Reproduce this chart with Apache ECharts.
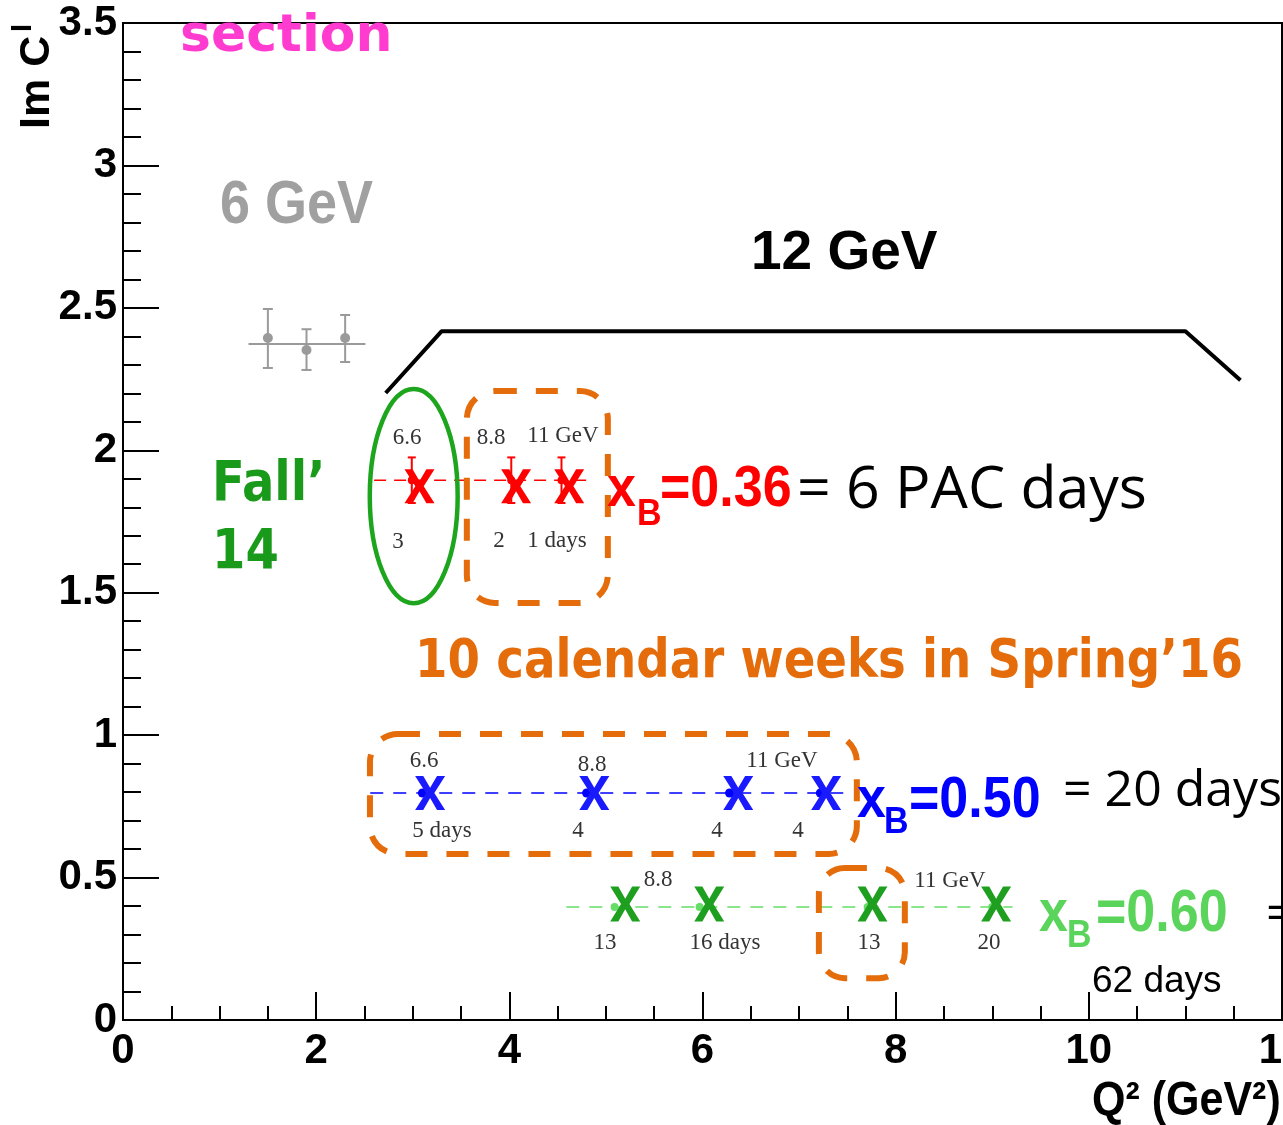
<!DOCTYPE html>
<html>
<head>
<meta charset="utf-8">
<script src="https://cdn.jsdelivr.net/npm/echarts@6/dist/echarts.min.js"></script>
<style>
  html, body { margin: 0; padding: 0; background: #fff; }
  #chart { width: 1283px; height: 1125px; }
</style>
</head>
<body>
<div id="chart"></div>
<script>
// ---- axis ticks ----
const q2TickValues = [0, 2, 4, 6, 8, 10, 12];
const imCTickValues = [0, 0.5, 1, 1.5, 2, 2.5, 3, 3.5];

// ---- 6 GeV measurements ----
const sixGeVQ2 = [1.5, 1.9, 2.3];
const sixGeVImC = [2.394, 2.352, 2.394];
const sixGeVErrUp = [0.102, 0.073, 0.081];
const sixGeVErrDown = [0.105, 0.070, 0.084];
const sixGeVAvgQ2 = [1.30, 2.51];
const sixGeVAvgImC = [2.373, 2.373];

// ---- 12 GeV bracket ----
const bracketQ2 = [2.72, 3.30, 11.00, 11.57];
const bracketImC = [2.201, 2.418, 2.418, 2.246];

// ---- projected points, xB = 0.36 ----
const xb36Q2 = [2.99, 4.02, 4.54];
const xb36ImC = [1.895, 1.895, 1.895];
const xb36Err = [0.08, 0.08, 0.08];
const xb36CrossQ2 = [3.07, 4.07, 4.62];
const xb36CrossImC = [1.874, 1.874, 1.874];
const xb36LineQ2 = [2.60, 4.80];
const xb36LineImC = [1.895, 1.895];

// ---- projected points, xB = 0.50 ----
const xb50Q2 = [3.10, 4.80, 6.28, 7.22];
const xb50ImC = [0.797, 0.797, 0.797, 0.797];
const xb50CrossQ2 = [3.18, 4.88, 6.37, 7.28];
const xb50CrossImC = [0.797, 0.797, 0.797, 0.797];
const xb50LineQ2 = [2.56, 7.56];
const xb50LineImC = [0.797, 0.797];

// ---- projected points, xB = 0.60 ----
const xb60Q2 = [5.09, 5.97, 7.71, 9.00];
const xb60ImC = [0.397, 0.397, 0.397, 0.397];
const xb60CrossQ2 = [5.20, 6.07, 7.76, 9.04];
const xb60CrossImC = [0.407, 0.407, 0.407, 0.407];
const xb60LineQ2 = [4.59, 9.21];
const xb60LineImC = [0.397, 0.397];

const pairs = (xs, ys) => xs.map((x, i) => [x, ys[i]]);

const ORANGE = '#e46c0a';
// thick "X" glyph used for the projected points
const CROSS = 'path://M0,0L27,0L50,35L73,0L100,0L64,50L100,100L73,100L50,65L27,100L0,100L36,50Z';

function errorBars(color, cap, width) {
  return function (params, api) {
    const x = api.value(0), lo = api.value(1), hi = api.value(2);
    const top = api.coord([x, hi]);
    const bot = api.coord([x, lo]);
    const st = { stroke: color, lineWidth: width };
    return {
      type: 'group',
      children: [
        { type: 'line', shape: { x1: top[0], y1: top[1], x2: bot[0], y2: bot[1] }, style: st },
        { type: 'line', shape: { x1: top[0] - cap, y1: top[1], x2: top[0] + cap, y2: top[1] }, style: st },
        { type: 'line', shape: { x1: bot[0] - cap, y1: bot[1], x2: bot[0] + cap, y2: bot[1] }, style: st }
      ]
    };
  };
}

const chart = echarts.init(document.getElementById('chart'), null, { renderer: 'canvas' });

const axisFont = { fontFamily: '"Liberation Sans", Arial, sans-serif', fontWeight: 'bold', fontSize: 42, color: '#000' };

const solid = (c) => ({ color: c, opacity: 1 });

const option = {
  animation: false,
  backgroundColor: '#fff',
  grid: {
    left: 123, right: 1, top: 23, bottom: 105,
    outerBoundsMode: 'none', containLabel: false,
    show: true, borderColor: '#000', borderWidth: 2, backgroundColor: 'transparent'
  },
  xAxis: {
    type: 'value',
    min: q2TickValues[0],
    max: q2TickValues[q2TickValues.length - 1],
    interval: q2TickValues[1] - q2TickValues[0],
    axisLine: { show: true, onZero: false, lineStyle: { color: '#000', width: 2 } },
    axisTick: { show: true, inside: true, length: 28, lineStyle: { color: '#000', width: 2 } },
    minorTick: { show: true, splitNumber: 4, length: 14, lineStyle: { color: '#000', width: 2 } },
    splitLine: { show: false },
    axisLabel: Object.assign({ margin: 10 }, axisFont)
  },
  yAxis: {
    type: 'value',
    min: imCTickValues[0],
    max: imCTickValues[imCTickValues.length - 1],
    interval: imCTickValues[1] - imCTickValues[0],
    axisLine: { show: true, onZero: false, lineStyle: { color: '#000', width: 2 } },
    axisTick: { show: true, inside: true, length: 36, lineStyle: { color: '#000', width: 2 } },
    minorTick: { show: true, splitNumber: 5, length: 18, lineStyle: { color: '#000', width: 2 } },
    splitLine: { show: false },
    axisLabel: Object.assign({ margin: 6 }, axisFont)
  },
  series: [
    {
      name: '6 GeV mean', type: 'line', data: pairs(sixGeVAvgQ2, sixGeVAvgImC),
      symbol: 'none', lineStyle: { color: '#9a9a9a', width: 2 }, z: 3
    },
    {
      name: '6 GeV errors', type: 'custom',
      data: sixGeVQ2.map((x, i) => [x, sixGeVImC[i] - sixGeVErrDown[i], sixGeVImC[i] + sixGeVErrUp[i]]),
      renderItem: errorBars('#9a9a9a', 5, 2), z: 3
    },
    {
      name: '6 GeV', type: 'scatter', data: pairs(sixGeVQ2, sixGeVImC),
      symbol: 'circle', symbolSize: 10, itemStyle: solid('#9a9a9a'), z: 4
    },
    {
      name: '12 GeV reach', type: 'line', data: pairs(bracketQ2, bracketImC),
      symbol: 'none', lineStyle: { color: '#000', width: 4 }, z: 3
    },
    {
      name: 'xB 0.36 line', type: 'line', data: pairs(xb36LineQ2, xb36LineImC),
      symbol: 'none', lineStyle: { color: '#ff0000', width: 1.5, type: [12, 8] }, z: 3
    },
    {
      name: 'xB 0.50 line', type: 'line', data: pairs(xb50LineQ2, xb50LineImC),
      symbol: 'none', lineStyle: { color: '#0000ff', width: 1.5, type: [13, 10] }, z: 3
    },
    {
      name: 'xB 0.60 line', type: 'line', data: pairs(xb60LineQ2, xb60LineImC),
      symbol: 'none', lineStyle: { color: '#66dd66', width: 1.5, type: [13, 10] }, z: 3
    },
    {
      name: 'xB 0.36 errors', type: 'custom',
      data: xb36Q2.map((x, i) => [x, xb36ImC[i] - xb36Err[i], xb36ImC[i] + xb36Err[i]]),
      renderItem: errorBars('#ff0000', 4, 2), z: 4
    },
    {
      name: 'xB 0.36', type: 'scatter', data: pairs(xb36Q2, xb36ImC),
      symbolSize: 8, itemStyle: solid('#ff0000'), z: 4
    },
    {
      name: 'xB 0.50', type: 'scatter', data: pairs(xb50Q2, xb50ImC),
      symbolSize: 9, itemStyle: solid('#0000ff'), z: 4
    },
    {
      name: 'xB 0.60', type: 'scatter', data: pairs(xb60Q2, xb60ImC),
      symbolSize: 8, itemStyle: solid('#66dd66'), z: 4
    },
    {
      name: 'xB 0.36 cross', type: 'scatter', data: pairs(xb36CrossQ2, xb36CrossImC),
      symbol: CROSS, symbolSize: [30, 34], itemStyle: solid('#ff0000'), z: 5
    },
    {
      name: 'xB 0.50 cross', type: 'scatter', data: pairs(xb50CrossQ2, xb50CrossImC),
      symbol: CROSS, symbolSize: [30, 34], itemStyle: solid('#1a1aff'), z: 5
    },
    {
      name: 'xB 0.60 cross', type: 'scatter', data: pairs(xb60CrossQ2, xb60CrossImC),
      symbol: CROSS, symbolSize: [30, 35], itemStyle: solid('#1f9f1f'), z: 5
    }
  ]
};

chart.setOption(option);

// ---- overlays: ellipse and dashed boxes given in data units ----
const toPx = (x, y) => chart.convertToPixel({ gridIndex: 0 }, [x, y]);

function dashedBox(q2a, q2b, imcTop, imcBottom, r) {
  const p0 = toPx(q2a, imcTop), p1 = toPx(q2b, imcBottom);
  return {
    type: 'rect', z: 20,
    shape: { x: p0[0], y: p0[1], width: p1[0] - p0[0], height: p1[1] - p0[1], r: r },
    style: { fill: 'none', stroke: ORANGE, lineWidth: 6, lineDash: [22, 19] }
  };
}

const ellC = toPx(3.01, 1.839);
const ellE = toPx(3.01 + 0.455, 1.839 + 0.376);

function label(x, y, text, font, color, align, scaleY, extra) {
  return Object.assign({
    type: 'text', x: x, y: y, z: 30, scaleY: scaleY || 1,
    style: {
      text: text, font: font, fill: color,
      align: align || 'left', verticalAlign: 'middle',
      textAlign: align || 'left', textVerticalAlign: 'middle'
    }
  }, extra || {});
}

const SERIF = '23px "Liberation Serif", "Times New Roman", serif';
const SANS_B = (s) => 'bold ' + s + 'px "Liberation Sans", Arial, sans-serif';
const DEJA_B = (s) => 'bold ' + s + 'px "DejaVu Sans", Verdana, sans-serif';
const OPEN = (s) => s + 'px "Open Sans", sans-serif';

const graphics = [
  // Fall'14 ellipse
  {
    type: 'ellipse', z: 20,
    shape: { cx: ellC[0], cy: ellC[1], rx: ellE[0] - ellC[0], ry: ellC[1] - ellE[1] },
    style: { fill: 'none', stroke: '#1ea51e', lineWidth: 4.5 }
  },
  dashedBox(3.56, 5.02, 2.208, 1.464, 28),
  dashedBox(2.557, 7.598, 1.004, 0.583, 28),
  dashedBox(7.205, 8.095, 0.534, 0.147, 26),

  // axis titles
  label(37, 129, 'Im C', SANS_B(43), '#000', 'left', 1, { rotation: Math.PI / 2 }),
  label(23, 32, 'I', SANS_B(29), '#000', 'left', 1, { rotation: Math.PI / 2 }),
  label(1092, 1102, 'Q² (GeV²)', SANS_B(43), '#000', 'left', 1.1),

  // headline labels
  label(180, 37, 'section', DEJA_B(52), '#ff3ccf', 'left', 1),
  label(220, 206, '6 GeV', SANS_B(54), '#a0a0a0', 'left', 1.13),
  label(751, 254, '12 GeV', SANS_B(55), '#000', 'left', 1),
  label(212, 486, 'Fall’', DEJA_B(48), '#1a9a1a', 'left', 1.15),
  label(212, 554, '14', DEJA_B(48), '#1a9a1a', 'left', 1.15),
  label(415, 663, '10 calendar weeks in Spring’16', DEJA_B(46.7), ORANGE, 'left', 1.15),

  // xB = 0.36
  label(607, 490, 'x', SANS_B(52), '#ff0000', 'left', 1.1),
  label(637, 515, 'B', SANS_B(34), '#ff0000', 'left', 1.1),
  label(660, 490, '=0.36', SANS_B(52), '#ff0000', 'left', 1.1),
  label(797, 491, '= 6 PAC days', OPEN(59), '#000', 'left', 1),

  // xB = 0.50
  label(857, 801, 'x', SANS_B(52), '#0000ff', 'left', 1.1),
  label(884, 823, 'B', SANS_B(34), '#0000ff', 'left', 1.1),
  label(909, 801, '=0.50', SANS_B(52), '#0000ff', 'left', 1.1),
  label(1063, 792, '= 20 days', OPEN(50), '#000', 'left', 1),

  // xB = 0.60
  label(1039, 915, 'x', SANS_B(52), '#5ad45a', 'left', 1.13),
  label(1067, 936, 'B', SANS_B(34), '#5ad45a', 'left', 1.13),
  label(1096, 915, '=0.60', SANS_B(52), '#5ad45a', 'left', 1.13),
  label(1266, 916, '=', OPEN(50), '#000', 'left', 1),
  label(1092, 982, '62 days', '37px "Liberation Sans", Arial, sans-serif', '#000', 'left', 1),

  // beam energies and days, xB = 0.36
  label(407, 438, '6.6', SERIF, '#333', 'center'),
  label(491, 438, '8.8', SERIF, '#333', 'center'),
  label(563, 436, '11 GeV', SERIF, '#333', 'center'),
  label(398, 542, '3', SERIF, '#333', 'center'),
  label(499, 541, '2', SERIF, '#333', 'center'),
  label(557, 541, '1 days', SERIF, '#333', 'center'),

  // xB = 0.50
  label(424, 761, '6.6', SERIF, '#333', 'center'),
  label(592, 765, '8.8', SERIF, '#333', 'center'),
  label(782, 761, '11 GeV', SERIF, '#333', 'center'),
  label(442, 831, '5 days', SERIF, '#333', 'center'),
  label(578, 831, '4', SERIF, '#333', 'center'),
  label(717, 831, '4', SERIF, '#333', 'center'),
  label(798, 831, '4', SERIF, '#333', 'center'),

  // xB = 0.60
  label(658, 880, '8.8', SERIF, '#333', 'center'),
  label(950, 881, '11 GeV', SERIF, '#333', 'center'),
  label(605, 943, '13', SERIF, '#333', 'center'),
  label(725, 943, '16 days', SERIF, '#333', 'center'),
  label(869, 943, '13', SERIF, '#333', 'center'),
  label(989, 943, '20', SERIF, '#333', 'center')
];

chart.setOption({ graphic: { elements: graphics } });
</script>
</body>
</html>
